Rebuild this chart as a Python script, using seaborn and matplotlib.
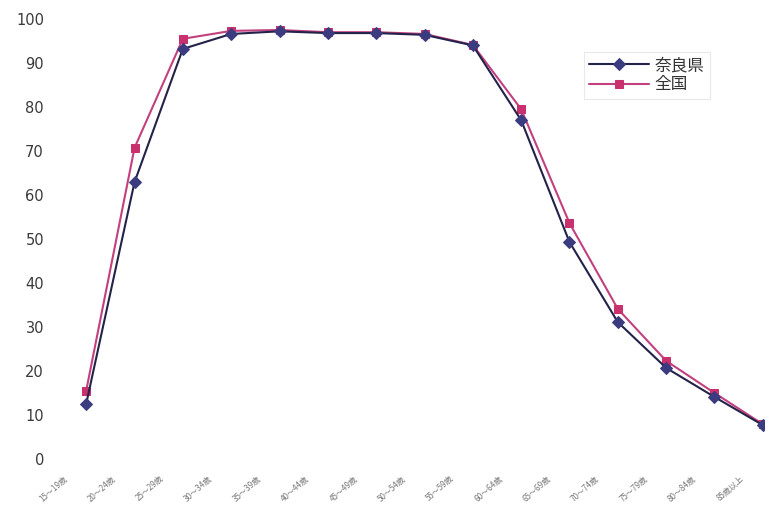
import matplotlib
matplotlib.use("Agg")
import matplotlib.pyplot as plt
import matplotlib.transforms as mtransforms
import numpy as np
import pandas as pd
import seaborn as sns

# 年齢階級
age_groups = ["15～19歳", "20～24歳", "25～29歳", "30～34歳", "35～39歳",
              "40～44歳", "45～49歳", "50～54歳", "55～59歳", "60～64歳",
              "65～69歳", "70～74歳", "75～79歳", "80～84歳", "85歳以上"]

# 奈良県
nara = [12.5, 62.9, 93.2, 96.6, 97.2, 96.8, 96.8, 96.4, 94.0,
        77.0, 49.3, 31.1, 20.7, 14.1, 7.7]
# 全国
zenkoku = [15.5, 70.7, 95.5, 97.3, 97.5, 97.0, 97.0, 96.6, 94.1,
           79.5, 53.6, 34.1, 22.3, 15.0, 7.9]

series_names = ["奈良県", "全国"]
y_ticks = [0, 10, 20, 30, 40, 50, 60, 70, 80, 90, 100]

sns.set_theme(style="white")
plt.rcParams["font.family"] = ["Noto Sans CJK JP", "DejaVu Sans"]

df = pd.DataFrame({
    "pos": list(range(len(age_groups))) * 2,
    "age": age_groups * 2,
    "value": nara + zenkoku,
    "series": [series_names[0]] * len(nara) + [series_names[1]] * len(zenkoku),
})

fig = plt.figure(figsize=(7.65, 5.07), dpi=100)
fig.patch.set_facecolor("white")
ax = fig.add_axes([62 / 765, 48 / 507, 725 / 765, 440 / 507])
ax.set_facecolor("white")

palette = {"奈良県": "#23234a", "全国": "#c2407e"}
marker_colors = {"奈良県": "#3b3b80", "全国": "#c8306e"}
markers = {"奈良県": "D", "全国": "s"}

# 全国を先に描き、奈良県をその上に重ねる
for name in ["全国", "奈良県"]:
    sub = df[df["series"] == name]
    mc = marker_colors[name]
    sns.lineplot(data=sub, x="pos", y="value", ax=ax, color=palette[name],
                 marker=markers[name], markersize=6.5 if name == "奈良県" else 6,
                 markerfacecolor=mc, markeredgecolor=mc, linewidth=1.5,
                 label=name, clip_on=False, zorder=3 if name == "奈良県" else 2)

ax.set_xlim(-0.5, len(age_groups) - 0.5)
ax.set_ylim(0, 100)
ax.set_yticks(y_ticks)
ax.set_yticklabels([str(v) for v in y_ticks], fontsize=10.5, color="#3a3a3a",
                   family=["DejaVu Sans"])

# 年齢階級ラベル(斜め、各点の左下に配置)
ax.set_xticks(range(len(age_groups)))
ax.set_xticklabels([""] * len(age_groups))
label_tf = ax.get_xaxis_transform() + mtransforms.ScaledTranslation(
    -23 / 100, -15 / 100, fig.dpi_scale_trans)
for i, name in enumerate(age_groups):
    ax.text(i, 0, name, transform=label_tf, rotation=42, ha="right", va="top",
            rotation_mode="anchor", fontsize=5.8, color="#777777", clip_on=False)

ax.tick_params(axis="y", length=2, color="#dddddd", pad=11)
ax.tick_params(axis="x", length=0, pad=2)
for s in ax.spines.values():
    s.set_visible(False)
ax.set_xlabel("")
ax.set_ylabel("")

# 凡例
handles, labels = ax.get_legend_handles_labels()
order = [labels.index("奈良県"), labels.index("全国")]
leg = ax.legend([handles[i] for i in order], [labels[i] for i in order],
                loc="upper left", bbox_to_anchor=((584 - 62) / 725, (459 - 52) / 440),
                bbox_transform=ax.transAxes, frameon=True, fontsize=12,
                handlelength=3.6, handletextpad=0.35, borderpad=0.3,
                borderaxespad=0, labelspacing=0.15, fancybox=False)
leg.get_frame().set_edgecolor("#e4e4e4")
leg.get_frame().set_linewidth(0.8)
for t in leg.get_texts():
    t.set_color("#333333")

fig.savefig("out.png", dpi=100, facecolor="white")
